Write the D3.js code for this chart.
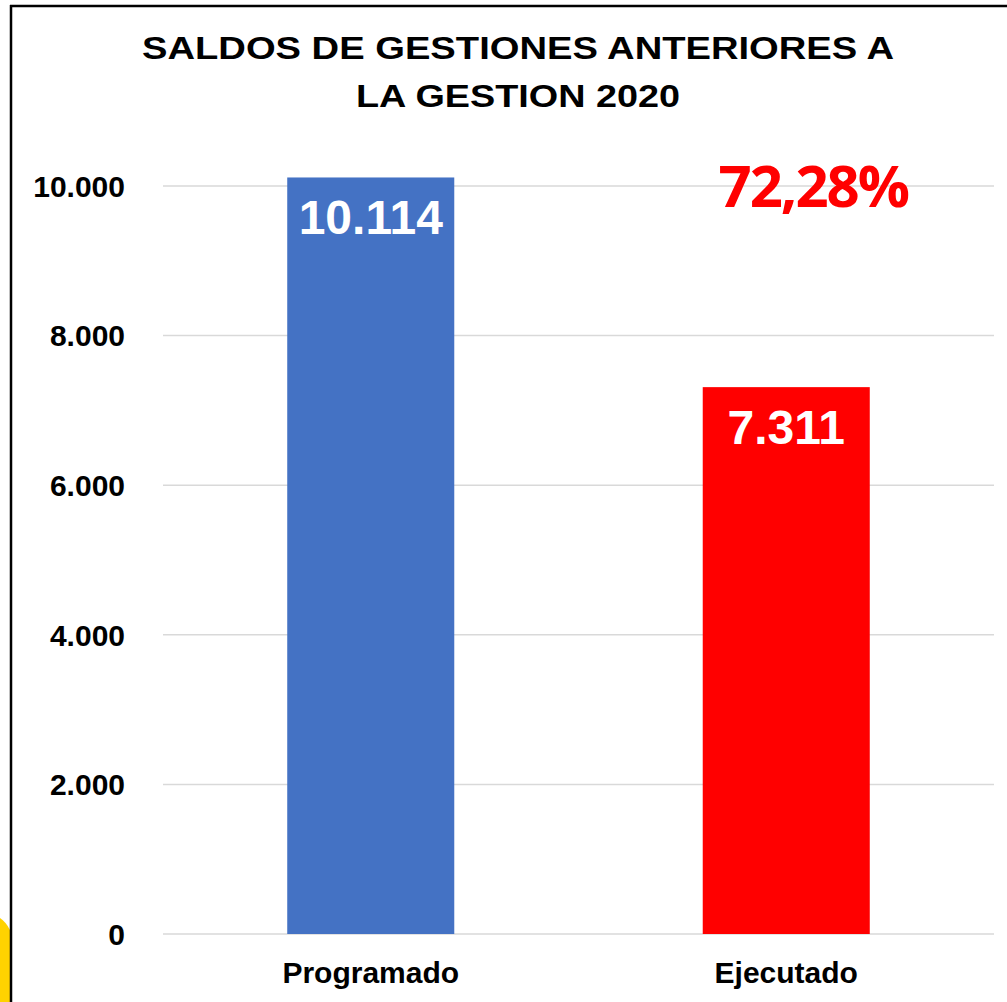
<!DOCTYPE html>
<html>
<head>
<meta charset="utf-8">
<script src="https://cdn.jsdelivr.net/npm/d3@7"></script>
<style>
  body { margin: 0; background: #fff; }
  svg { display: block; }
</style>
</head>
<body>
<svg id="chart"></svg>
<script>
const titleLines = ["SALDOS DE GESTIONES ANTERIORES A", "LA GESTION 2020"];
const categories = ["Programado", "Ejecutado"];
const values = [10114, 7311];
const yTicks = [0, 2000, 4000, 6000, 8000, 10000];
const percentText = "72,28%";

const colors = ["#4472C4", "#FF0000"];
const titleWidths = [752, 324];
const width = 1007, height = 1002;
const font = "Arial, 'Liberation Sans', sans-serif";

const svg = d3.select("#chart")
  .attr("width", width)
  .attr("height", height);

// frame + the bit of yellow decoration peeking in at the bottom left
svg.append("path")
  .attr("d", "M0,918 Q6,922 10,930 L10,1002 L0,1002 Z")
  .attr("fill", "#FFD200");
svg.append("line")
  .attr("x1", 11).attr("x2", 11).attr("y1", 5).attr("y2", height)
  .attr("stroke", "#000").attr("stroke-width", 2.5);
svg.append("line")
  .attr("x1", 10).attr("x2", width).attr("y1", 6).attr("y2", 6)
  .attr("stroke", "#000").attr("stroke-width", 2.5);

// title (glyphs in the original are a bit wider than plain Arial)
svg.append("g").selectAll("text")
  .data(titleLines)
  .enter()
  .append("text")
  .attr("x", 518)
  .attr("y", (d, i) => 59 + i * 48)
  .attr("text-anchor", "middle")
  .attr("textLength", (d, i) => titleWidths[i])
  .attr("lengthAdjust", "spacingAndGlyphs")
  .style("font-family", font)
  .style("font-weight", "bold")
  .style("font-size", "32px")
  .text(d => d);

const x = d3.scaleBand()
  .domain(categories)
  .range([163, 994])
  .paddingInner(0.598)
  .paddingOuter(0.299);

const y = d3.scaleLinear()
  .domain([0, 10000])
  .range([934, 186]);

const fmt = d3.formatLocale({ decimal: ",", thousands: ".", grouping: [3], currency: ["", ""] }).format(",d");

// gridlines
svg.append("g").selectAll("line")
  .data(yTicks)
  .enter()
  .append("line")
  .attr("x1", 163).attr("x2", 994)
  .attr("y1", d => y(d)).attr("y2", d => y(d))
  .attr("stroke", "#D9D9D9")
  .attr("stroke-width", 1.5);

// y tick labels
svg.append("g").selectAll("text")
  .data(yTicks)
  .enter()
  .append("text")
  .attr("x", 125)
  .attr("y", d => y(d))
  .attr("dy", "0.36em")
  .attr("text-anchor", "end")
  .style("font-family", font)
  .style("font-weight", "bold")
  .style("font-size", "30px")
  .text(d => fmt(d));

// bars
svg.append("g").selectAll("rect")
  .data(values)
  .enter()
  .append("rect")
  .attr("x", (d, i) => x(categories[i]))
  .attr("y", d => y(d))
  .attr("width", x.bandwidth())
  .attr("height", d => y(0) - y(d))
  .attr("fill", (d, i) => colors[i]);

// value labels inside the bars
svg.append("g").selectAll("text")
  .data(values)
  .enter()
  .append("text")
  .attr("x", (d, i) => x(categories[i]) + x.bandwidth() / 2)
  .attr("y", d => y(d) + 57)
  .attr("text-anchor", "middle")
  .attr("fill", "#fff")
  .style("font-family", font)
  .style("font-weight", "bold")
  .style("font-size", "48px")
  .text(d => fmt(d));

// category labels
svg.append("g").selectAll("text")
  .data(categories)
  .enter()
  .append("text")
  .attr("x", d => x(d) + x.bandwidth() / 2)
  .attr("y", 983)
  .attr("text-anchor", "middle")
  .style("font-family", font)
  .style("font-weight", "bold")
  .style("font-size", "30px")
  .text(d => d);

// execution percentage
svg.append("text")
  .attr("x", x(categories[1]) + x.bandwidth() / 2 + 27)
  .attr("y", y(10000) + 21)
  .attr("text-anchor", "middle")
  .attr("fill", "#FF0000")
  .style("font-family", "'Open Sans', sans-serif")
  .style("font-weight", "bold")
  .style("font-size", "58px")
  .style("letter-spacing", "-2px")
  .text(percentText);
</script>
</body>
</html>
